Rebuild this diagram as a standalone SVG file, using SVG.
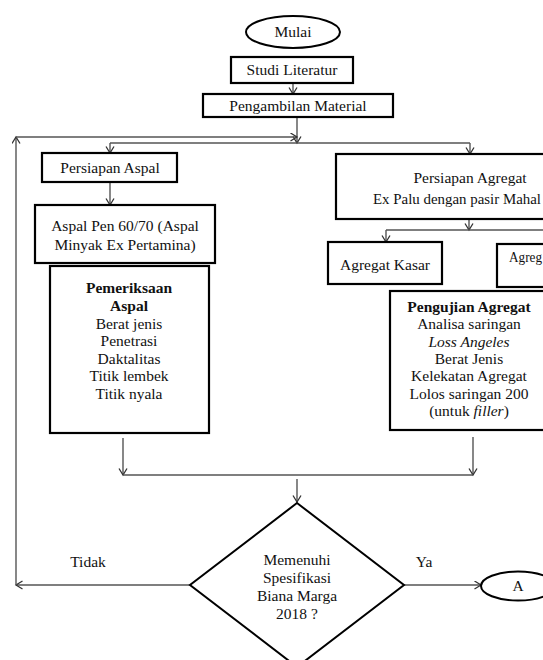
<svg xmlns="http://www.w3.org/2000/svg" width="543" height="660" viewBox="0 0 543 660">
<defs>
<style>
.box{fill:#fff;stroke:#000;stroke-width:2.2}
.t{font-family:'Liberation Serif','DejaVu Serif','Times New Roman',serif;font-size:15.5px;fill:#111;text-anchor:middle}
.b{font-weight:bold}
.c{fill:none;stroke:#555;stroke-width:1.4}
</style>
<marker id="ah" markerWidth="9" markerHeight="10" refX="7" refY="4.5" orient="auto" markerUnits="userSpaceOnUse">
<path d="M0.5,0.5 L7,4.5 L0.5,8.5" fill="none" stroke="#333" stroke-width="1.3"/>
</marker>
</defs>
<rect width="543" height="660" fill="#fff"/>
<g id="connectors">
<line class="c" x1="293" y1="83" x2="293" y2="94" marker-end="url(#ah)"/>
<line class="c" x1="297" y1="117" x2="297" y2="143" marker-end="url(#ah)"/>
<line class="c" x1="110" y1="143" x2="470" y2="143"/>
<line class="c" x1="110" y1="143" x2="110" y2="153" marker-end="url(#ah)"/>
<line class="c" x1="470" y1="143" x2="470" y2="154" marker-end="url(#ah)"/>
<line class="c" x1="110" y1="182" x2="110" y2="205" marker-end="url(#ah)"/>
<line class="c" x1="469" y1="219" x2="469" y2="230" marker-end="url(#ah)"/>
<line class="c" x1="386" y1="230" x2="545" y2="230"/>
<line class="c" x1="386" y1="230" x2="386" y2="242" marker-end="url(#ah)"/>
<line class="c" x1="123" y1="438" x2="123" y2="475" marker-end="url(#ah)"/>
<line class="c" x1="473" y1="437" x2="473" y2="475" marker-end="url(#ah)"/>
<line class="c" x1="123" y1="475" x2="473" y2="475"/>
<line class="c" x1="297" y1="479" x2="297" y2="502" marker-end="url(#ah)"/>
<line class="c" x1="190" y1="585" x2="16" y2="585" marker-end="url(#ah)"/>
<line class="c" x1="16" y1="585" x2="16" y2="137" marker-end="url(#ah)"/>
<line class="c" x1="16" y1="137" x2="297" y2="137" marker-end="url(#ah)"/>
<line class="c" x1="404" y1="585" x2="481" y2="585" marker-end="url(#ah)"/>
<text class="t" x="88" y="567">Tidak</text>
<text class="t" x="424" y="567">Ya</text>
</g>
<g id="mulai">
<ellipse cx="293" cy="32" rx="47" ry="16" fill="#fff" stroke="#000" stroke-width="2"/>
<text class="t" x="293" y="37">Mulai</text>
</g>
<g id="studi">
<rect class="box" x="231" y="57" width="122" height="26"/>
<text class="t" x="292" y="75">Studi Literatur</text>
</g>
<g id="pengambilan">
<rect class="box" x="203" y="94" width="190" height="23"/>
<text class="t" x="298" y="111">Pengambilan Material</text>
</g>
<g id="persiapan-aspal">
<rect class="box" x="42" y="153" width="135" height="29"/>
<text class="t" x="110" y="173">Persiapan Aspal</text>
</g>
<g id="aspal-pen">
<rect class="box" x="35" y="205" width="180" height="58"/>
<text class="t" x="125" y="231">Aspal Pen 60/70 (Aspal</text>
<text class="t" x="125" y="250">Minyak Ex Pertamina)</text>
</g>
<g id="pemeriksaan-aspal">
<rect class="box" x="50" y="266" width="159" height="167"/>
<text class="t b" x="129" y="293">Pemeriksaan</text>
<text class="t b" x="129" y="311">Aspal</text>
<text class="t" x="129" y="329">Berat jenis</text>
<text class="t" x="129" y="346">Penetrasi</text>
<text class="t" x="129" y="364">Daktalitas</text>
<text class="t" x="129" y="381">Titik lembek</text>
<text class="t" x="129" y="399">Titik nyala</text>
</g>
<g id="persiapan-agregat">
<rect class="box" x="336" y="154" width="220" height="65"/>
<text class="t" x="470" y="183">Persiapan Agregat</text>
<text class="t" x="373" y="204" style="text-anchor:start" textLength="168" lengthAdjust="spacingAndGlyphs">Ex Palu dengan pasir Mahal</text>
</g>
<g id="agregat-kasar">
<rect class="box" x="328" y="242" width="114" height="42"/>
<text class="t" x="385" y="270">Agregat Kasar</text>
</g>
<g id="agregat-halus">
<rect class="box" x="497" y="244" width="60" height="43"/>
<text class="t" x="509" y="262" style="text-anchor:start" textLength="33" lengthAdjust="spacingAndGlyphs">Agreg</text>
</g>
<g id="pengujian-agregat">
<rect class="box" x="390" y="291" width="170" height="139"/>
<text class="t b" x="469" y="312">Pengujian Agregat</text>
<text class="t" x="469" y="329">Analisa saringan</text>
<text class="t" x="469" y="347" font-style="italic">Loss Angeles</text>
<text class="t" x="469" y="364">Berat Jenis</text>
<text class="t" x="469" y="381">Kelekatan Agregat</text>
<text class="t" x="469" y="399">Lolos saringan 200</text>
<text class="t" x="469" y="416">(untuk <tspan font-style="italic">filler</tspan>)</text>
</g>
<g id="keputusan">
<polygon points="297,503 404,585 297,667 190,585" fill="#fff" stroke="#000" stroke-width="2"/>
<text class="t" x="297" y="565">Memenuhi</text>
<text class="t" x="297" y="583">Spesifikasi</text>
<text class="t" x="297" y="601">Biana Marga</text>
<text class="t" x="297" y="619">2018 ?</text>
</g>
<g id="a">
<ellipse cx="518" cy="586" rx="37" ry="14.5" fill="#fff" stroke="#000" stroke-width="2"/>
<text class="t" x="518" y="591">A</text>
</g>
</svg>
